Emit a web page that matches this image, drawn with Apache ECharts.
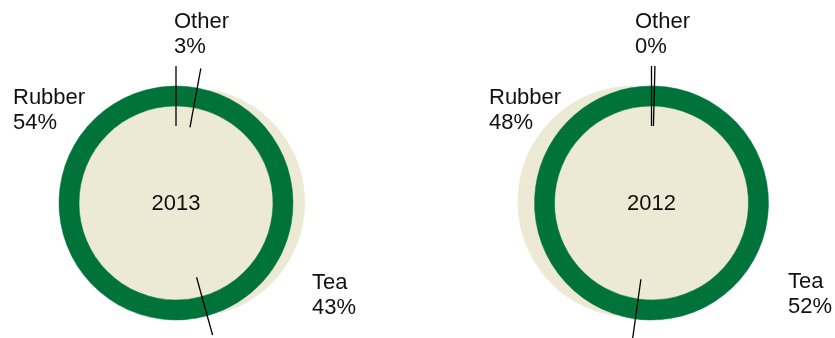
<!DOCTYPE html>
<html>
<head>
<meta charset="utf-8">
<script src="https://cdn.jsdelivr.net/npm/echarts@6/dist/echarts.min.js"></script>
<style>
  html, body { margin: 0; padding: 0; background: #fff; }
  #chart { width: 835px; height: 338px; }
</style>
</head>
<body>
<div id="chart"></div>
<script>
// Slices go clockwise from 12 o'clock in this order
var years = ['2013', '2012'];
var categories = ['Other', 'Tea', 'Rubber'];
var share2013 = [2.9, 42.8, 54.3];
var share2012 = [0.4, 51.8, 47.8];
var popped = ['Tea', 'Rubber'];   // slice pushed out of the disc in each year

var GREEN = '#00733a';
var BEIGE = '#ecead5';
var FONT = '"Liberation Sans", Arial, Helvetica, sans-serif';

var CENTERS = [[176, 203], [651.5, 203]];
var DISC_R = [115, 116];
var POP_OFFSET = [14, 18];
var RING = [97, 117];
var TICK_IN = 77, TICK_OUT = 137;

// top-left of each label block, per chart
var LABEL_POS = [
  { Other: [174, 9], Tea: [312, 270], Rubber: [13, 85] },
  { Other: [635, 9], Tea: [788, 269], Rubber: [489, 85] }
];

var shares = [share2013, share2012];

function pieData(vals, color, pop) {
  return categories.map(function (c, i) {
    return { name: c, value: vals[i], selected: c === pop, itemStyle: { color: color } };
  });
}

// slice boundaries in percent, for the black separator ticks
function bounds(vals) {
  var out = [], acc = 0;
  for (var i = 0; i < vals.length; i++) {
    out.push([TICK_OUT, acc]);
    acc += vals[i];
  }
  return out;
}

var polar = [], angleAxis = [], radiusAxis = [], series = [], graphic = [];

shares.forEach(function (vals, k) {
  polar.push({ center: CENTERS[k], radius: TICK_OUT });
  angleAxis.push({ polarIndex: k, type: 'value', min: 0, max: 100, startAngle: 90, clockwise: true, show: false });
  radiusAxis.push({ polarIndex: k, type: 'value', min: 0, max: TICK_OUT, show: false });

  // popped-out beige slice
  series.push({
    type: 'pie',
    z: 1,
    center: CENTERS[k],
    radius: [0, DISC_R[k]],
    startAngle: 90,
    selectedMode: 'single',
    selectedOffset: POP_OFFSET[k],
    silent: true,
    data: pieData(vals, BEIGE, popped[k]),
    label: { show: false },
    labelLine: { show: false },
    emphasis: { disabled: true }
  });

  // beige disc that fills the inside, carries the labels
  series.push({
    type: 'pie',
    z: 2,
    center: CENTERS[k],
    radius: [0, RING[0] + 2],
    startAngle: 90,
    avoidLabelOverlap: false,
    percentPrecision: 0,
    silent: true,
    data: pieData(vals, BEIGE, null),
    itemStyle: { borderColor: BEIGE, borderWidth: 1 },
    label: {
      show: true,
      position: 'inside',
      formatter: '{b}\n{d}%',
      color: '#111',
      fontFamily: FONT,
      fontSize: 22,
      lineHeight: 25,
      align: 'left'
    },
    labelLine: { show: false },
    labelLayout: function (p) {
      var pos = LABEL_POS[k][categories[p.dataIndex]];
      return { x: pos[0], y: pos[1], align: 'left', verticalAlign: 'top' };
    },
    emphasis: { disabled: true }
  });

  // green ring
  series.push({
    type: 'pie',
    z: 3,
    center: CENTERS[k],
    radius: RING,
    startAngle: 90,
    silent: true,
    data: pieData(vals, GREEN, null),
    itemStyle: { borderColor: GREEN, borderWidth: 0.5 },
    label: { show: false },
    labelLine: { show: false },
    emphasis: { disabled: true }
  });

  // separator ticks
  series.push({
    type: 'custom',
    z: 6,
    coordinateSystem: 'polar',
    polarIndex: k,
    silent: true,
    clip: false,
    encode: { radius: 0, angle: 1 },
    data: bounds(vals),
    renderItem: function (params, api) {
      var a = api.value(1);
      var p1 = api.coord([TICK_IN, a]);
      var p2 = api.coord([TICK_OUT, a]);
      return {
        type: 'line',
        z2: 10,
        shape: { x1: p1[0], y1: p1[1], x2: p2[0], y2: p2[1] },
        style: { stroke: '#000', lineWidth: 1.3 }
      };
    }
  });

  graphic.push({
    type: 'text',
    x: CENTERS[k][0],
    y: CENTERS[k][1] + 1,
    z: 10,
    style: {
      text: years[k],
      fill: '#111',
      font: '22px ' + FONT,
      textAlign: 'center',
      textVerticalAlign: 'middle'
    }
  });
});

var chart = echarts.init(document.getElementById('chart'));
chart.setOption({
  animation: false,
  backgroundColor: '#fff',
  polar: polar,
  angleAxis: angleAxis,
  radiusAxis: radiusAxis,
  series: series,
  graphic: graphic
});
</script>
</body>
</html>
